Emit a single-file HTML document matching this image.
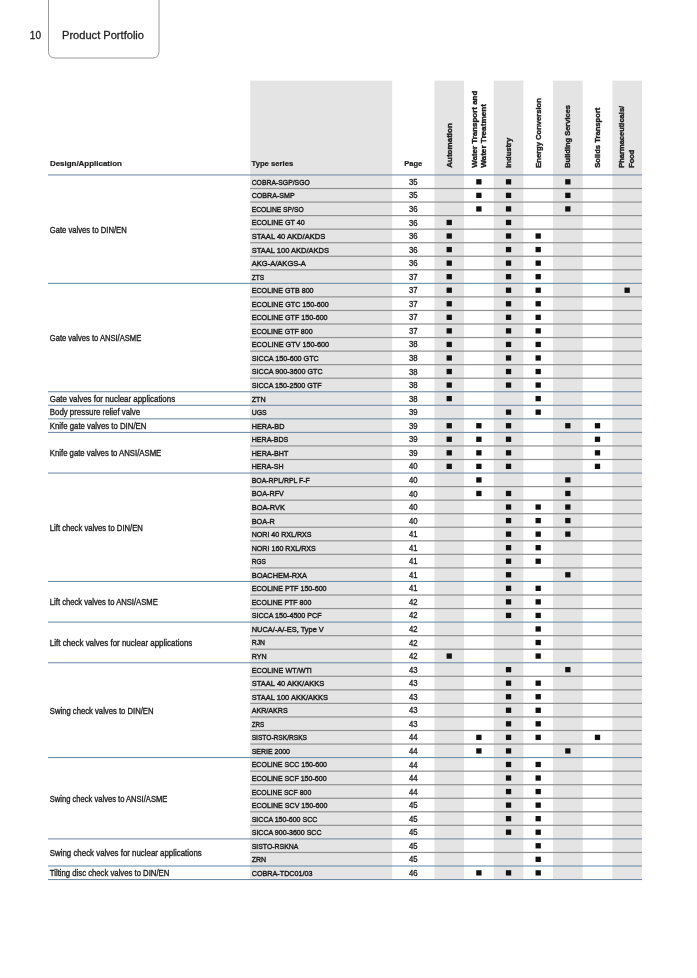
<!DOCTYPE html>
<html lang="en"><head><meta charset="utf-8"><title>Product Portfolio</title>
<style>html,body{margin:0;padding:0;background:#fff}body{width:697px;height:978px;overflow:hidden;position:relative;font-family:"Liberation Sans",sans-serif}svg{position:absolute;left:0;top:0;display:block}text{font-family:"Liberation Sans",sans-serif;fill:#1c1c1c;stroke:#1c1c1c;stroke-width:.32px}.b{font-weight:bold;stroke-width:.2px}.r{stroke-width:.38px}.t{stroke-width:.42px}</style></head><body>
<svg width="697" height="978" viewBox="0 0 697 978">
<path d="M48.5 -2V51.5Q48.5 58 55 58H152.5Q159 58 159 51.5V-2" fill="none" stroke="#9a9a9a" stroke-width="1"/>
<text x="29.8" y="39.3" font-size="11" textLength="11.2" lengthAdjust="spacingAndGlyphs" style="stroke-width:.28px">10</text>
<text x="62" y="39.3" font-size="11" style="stroke-width:.28px" textLength="82" lengthAdjust="spacingAndGlyphs">Product Portfolio</text>
<rect x="250.2" y="80.6" width="142.00" height="798.95" fill="#e4e4e4"/>
<rect x="434.40" y="80.6" width="29.65" height="798.95" fill="#e4e4e4"/>
<rect x="493.71" y="80.6" width="29.66" height="798.95" fill="#e4e4e4"/>
<rect x="553.02" y="80.6" width="29.65" height="798.95" fill="#e4e4e4"/>
<rect x="612.33" y="80.6" width="29.66" height="798.95" fill="#e4e4e4"/>
<text class="b" x="49.9" y="166.3" font-size="8.1" textLength="72" lengthAdjust="spacingAndGlyphs">Design/Application</text>
<text class="b" x="251.5" y="166.3" font-size="8.1" textLength="41.8" lengthAdjust="spacingAndGlyphs">Type series</text>
<text class="b" x="413.30" y="166.3" font-size="8.1" text-anchor="middle" textLength="18" lengthAdjust="spacingAndGlyphs">Page</text>
<text class="b r" font-size="8.1" textLength="44.75" lengthAdjust="spacingAndGlyphs" transform="translate(451.73 167.8) rotate(-90)">Automation</text>
<text class="b r" font-size="8.1" textLength="77.1" lengthAdjust="spacingAndGlyphs" transform="translate(476.53 167.8) rotate(-90)">Water Transport and</text>
<text class="b r" font-size="8.1" textLength="63.7" lengthAdjust="spacingAndGlyphs" transform="translate(486.43 167.8) rotate(-90)">Water Treatment</text>
<text class="b r" font-size="8.1" textLength="30.1" lengthAdjust="spacingAndGlyphs" transform="translate(511.04 167.8) rotate(-90)">Industry</text>
<text class="b r" font-size="8.1" textLength="69.7" lengthAdjust="spacingAndGlyphs" transform="translate(540.69 167.8) rotate(-90)">Energy Conversion</text>
<text class="b r" font-size="8.1" textLength="62.8" lengthAdjust="spacingAndGlyphs" transform="translate(570.35 167.8) rotate(-90)">Building Services</text>
<text class="b r" font-size="8.1" textLength="60.2" lengthAdjust="spacingAndGlyphs" transform="translate(599.60 167.8) rotate(-90)">Solids Transport</text>
<text class="b r" font-size="8.1" textLength="62.0" lengthAdjust="spacingAndGlyphs" transform="translate(624.21 167.8) rotate(-90)">Pharmaceuticals/</text>
<text class="b r" font-size="8.1" textLength="18.1" lengthAdjust="spacingAndGlyphs" transform="translate(634.11 167.8) rotate(-90)">Food</text>
<rect x="250.20" y="187.90" width="391.79" height="1.2" fill="#919191"/>
<rect x="250.20" y="201.45" width="391.79" height="1.2" fill="#919191"/>
<rect x="250.20" y="215.00" width="391.79" height="1.2" fill="#919191"/>
<rect x="250.20" y="228.55" width="391.79" height="1.2" fill="#919191"/>
<rect x="250.20" y="242.10" width="391.79" height="1.2" fill="#919191"/>
<rect x="250.20" y="255.65" width="391.79" height="1.2" fill="#919191"/>
<rect x="250.20" y="269.20" width="391.79" height="1.2" fill="#919191"/>
<rect x="250.20" y="296.30" width="391.79" height="1.2" fill="#919191"/>
<rect x="250.20" y="309.85" width="391.79" height="1.2" fill="#919191"/>
<rect x="250.20" y="323.40" width="391.79" height="1.2" fill="#919191"/>
<rect x="250.20" y="336.95" width="391.79" height="1.2" fill="#919191"/>
<rect x="250.20" y="350.50" width="391.79" height="1.2" fill="#919191"/>
<rect x="250.20" y="364.05" width="391.79" height="1.2" fill="#919191"/>
<rect x="250.20" y="377.60" width="391.79" height="1.2" fill="#919191"/>
<rect x="250.20" y="445.35" width="391.79" height="1.2" fill="#919191"/>
<rect x="250.20" y="458.90" width="391.79" height="1.2" fill="#919191"/>
<rect x="250.20" y="486.00" width="391.79" height="1.2" fill="#919191"/>
<rect x="250.20" y="499.55" width="391.79" height="1.2" fill="#919191"/>
<rect x="250.20" y="513.10" width="391.79" height="1.2" fill="#919191"/>
<rect x="250.20" y="526.65" width="391.79" height="1.2" fill="#919191"/>
<rect x="250.20" y="540.20" width="391.79" height="1.2" fill="#919191"/>
<rect x="250.20" y="553.75" width="391.79" height="1.2" fill="#919191"/>
<rect x="250.20" y="567.30" width="391.79" height="1.2" fill="#919191"/>
<rect x="250.20" y="594.40" width="391.79" height="1.2" fill="#919191"/>
<rect x="250.20" y="607.95" width="391.79" height="1.2" fill="#919191"/>
<rect x="250.20" y="635.05" width="391.79" height="1.2" fill="#919191"/>
<rect x="250.20" y="648.60" width="391.79" height="1.2" fill="#919191"/>
<rect x="250.20" y="675.70" width="391.79" height="1.2" fill="#919191"/>
<rect x="250.20" y="689.25" width="391.79" height="1.2" fill="#919191"/>
<rect x="250.20" y="702.80" width="391.79" height="1.2" fill="#919191"/>
<rect x="250.20" y="716.35" width="391.79" height="1.2" fill="#919191"/>
<rect x="250.20" y="729.90" width="391.79" height="1.2" fill="#919191"/>
<rect x="250.20" y="743.45" width="391.79" height="1.2" fill="#919191"/>
<rect x="250.20" y="770.55" width="391.79" height="1.2" fill="#919191"/>
<rect x="250.20" y="784.10" width="391.79" height="1.2" fill="#919191"/>
<rect x="250.20" y="797.65" width="391.79" height="1.2" fill="#919191"/>
<rect x="250.20" y="811.20" width="391.79" height="1.2" fill="#919191"/>
<rect x="250.20" y="824.75" width="391.79" height="1.2" fill="#919191"/>
<rect x="250.20" y="851.85" width="391.79" height="1.2" fill="#919191"/>
<rect x="48.00" y="174.42" width="593.99" height="1.05" fill="#6d8ba6"/>
<rect x="48.00" y="621.58" width="593.99" height="1.05" fill="#6d8ba6"/>
<rect x="48.00" y="662.23" width="593.99" height="1.05" fill="#6d8ba6"/>
<rect x="48.00" y="282.83" width="593.99" height="1.05" fill="#6d8ba6"/>
<rect x="48.00" y="757.07" width="593.99" height="1.05" fill="#6d8ba6"/>
<rect x="48.00" y="391.23" width="593.99" height="1.05" fill="#6d8ba6"/>
<rect x="48.00" y="404.78" width="593.99" height="1.05" fill="#6d8ba6"/>
<rect x="48.00" y="418.33" width="593.99" height="1.05" fill="#6d8ba6"/>
<rect x="48.00" y="431.88" width="593.99" height="1.05" fill="#6d8ba6"/>
<rect x="48.00" y="838.38" width="593.99" height="1.05" fill="#6d8ba6"/>
<rect x="48.00" y="865.48" width="593.99" height="1.05" fill="#6d8ba6"/>
<rect x="48.00" y="472.53" width="593.99" height="1.05" fill="#6d8ba6"/>
<rect x="48.00" y="879.02" width="593.99" height="1.05" fill="#6d8ba6"/>
<rect x="48.00" y="580.93" width="593.99" height="1.05" fill="#6d8ba6"/>
<text class="t" font-size="8.1" x="251.7" y="184.77" textLength="58.1" lengthAdjust="spacingAndGlyphs">COBRA-SGP/SGO</text>
<text font-size="8.4" text-anchor="middle" transform="translate(413.30 184.87) scale(0.92 1)">35</text>
<rect x="476.23" y="179.17" width="5.3" height="5.3" fill="#111"/>
<rect x="505.89" y="179.17" width="5.3" height="5.3" fill="#111"/>
<rect x="565.20" y="179.17" width="5.3" height="5.3" fill="#111"/>
<text class="t" font-size="8.1" x="251.7" y="198.32" textLength="43.0" lengthAdjust="spacingAndGlyphs">COBRA-SMP</text>
<text font-size="8.4" text-anchor="middle" transform="translate(413.30 198.42) scale(0.92 1)">35</text>
<rect x="476.23" y="192.72" width="5.3" height="5.3" fill="#111"/>
<rect x="505.89" y="192.72" width="5.3" height="5.3" fill="#111"/>
<rect x="565.20" y="192.72" width="5.3" height="5.3" fill="#111"/>
<text class="t" font-size="8.1" x="251.7" y="211.87" textLength="52.0" lengthAdjust="spacingAndGlyphs">ECOLINE SP/SO</text>
<text font-size="8.4" text-anchor="middle" transform="translate(413.30 211.97) scale(0.92 1)">36</text>
<rect x="476.23" y="206.27" width="5.3" height="5.3" fill="#111"/>
<rect x="505.89" y="206.27" width="5.3" height="5.3" fill="#111"/>
<rect x="565.20" y="206.27" width="5.3" height="5.3" fill="#111"/>
<text class="t" font-size="8.1" x="251.7" y="225.42" textLength="53.1" lengthAdjust="spacingAndGlyphs">ECOLINE GT 40</text>
<text font-size="8.4" text-anchor="middle" transform="translate(413.30 225.52) scale(0.92 1)">36</text>
<rect x="446.58" y="219.82" width="5.3" height="5.3" fill="#111"/>
<rect x="505.89" y="219.82" width="5.3" height="5.3" fill="#111"/>
<text class="t" font-size="8.1" x="251.7" y="238.97" textLength="73.6" lengthAdjust="spacingAndGlyphs">STAAL 40 AKD/AKDS</text>
<text font-size="8.4" text-anchor="middle" transform="translate(413.30 239.07) scale(0.92 1)">36</text>
<rect x="446.58" y="233.37" width="5.3" height="5.3" fill="#111"/>
<rect x="505.89" y="233.37" width="5.3" height="5.3" fill="#111"/>
<rect x="535.54" y="233.37" width="5.3" height="5.3" fill="#111"/>
<text class="t" font-size="8.1" x="251.7" y="252.52" textLength="77.4" lengthAdjust="spacingAndGlyphs">STAAL 100 AKD/AKDS</text>
<text font-size="8.4" text-anchor="middle" transform="translate(413.30 252.62) scale(0.92 1)">36</text>
<rect x="446.58" y="246.92" width="5.3" height="5.3" fill="#111"/>
<rect x="505.89" y="246.92" width="5.3" height="5.3" fill="#111"/>
<rect x="535.54" y="246.92" width="5.3" height="5.3" fill="#111"/>
<text class="t" font-size="8.1" x="251.7" y="266.07" textLength="54.2" lengthAdjust="spacingAndGlyphs">AKG-A/AKGS-A</text>
<text font-size="8.4" text-anchor="middle" transform="translate(413.30 266.17) scale(0.92 1)">36</text>
<rect x="446.58" y="260.48" width="5.3" height="5.3" fill="#111"/>
<rect x="505.89" y="260.48" width="5.3" height="5.3" fill="#111"/>
<rect x="535.54" y="260.48" width="5.3" height="5.3" fill="#111"/>
<text class="t" font-size="8.1" x="251.7" y="279.62" textLength="12.5" lengthAdjust="spacingAndGlyphs">ZTS</text>
<text font-size="8.4" text-anchor="middle" transform="translate(413.30 279.72) scale(0.92 1)">37</text>
<rect x="446.58" y="274.03" width="5.3" height="5.3" fill="#111"/>
<rect x="505.89" y="274.03" width="5.3" height="5.3" fill="#111"/>
<rect x="535.54" y="274.03" width="5.3" height="5.3" fill="#111"/>
<text class="t" font-size="8.1" x="251.7" y="293.17" textLength="61.9" lengthAdjust="spacingAndGlyphs">ECOLINE GTB 800</text>
<text font-size="8.4" text-anchor="middle" transform="translate(413.30 293.27) scale(0.92 1)">37</text>
<rect x="446.58" y="287.58" width="5.3" height="5.3" fill="#111"/>
<rect x="505.89" y="287.58" width="5.3" height="5.3" fill="#111"/>
<rect x="535.54" y="287.58" width="5.3" height="5.3" fill="#111"/>
<rect x="624.51" y="287.58" width="5.3" height="5.3" fill="#111"/>
<text class="t" font-size="8.1" x="251.7" y="306.72" textLength="77.0" lengthAdjust="spacingAndGlyphs">ECOLINE GTC 150-600</text>
<text font-size="8.4" text-anchor="middle" transform="translate(413.30 306.82) scale(0.92 1)">37</text>
<rect x="446.58" y="301.12" width="5.3" height="5.3" fill="#111"/>
<rect x="505.89" y="301.12" width="5.3" height="5.3" fill="#111"/>
<rect x="535.54" y="301.12" width="5.3" height="5.3" fill="#111"/>
<text class="t" font-size="8.1" x="251.7" y="320.27" textLength="75.9" lengthAdjust="spacingAndGlyphs">ECOLINE GTF 150-600</text>
<text font-size="8.4" text-anchor="middle" transform="translate(413.30 320.37) scale(0.92 1)">37</text>
<rect x="446.58" y="314.68" width="5.3" height="5.3" fill="#111"/>
<rect x="505.89" y="314.68" width="5.3" height="5.3" fill="#111"/>
<rect x="535.54" y="314.68" width="5.3" height="5.3" fill="#111"/>
<text class="t" font-size="8.1" x="251.7" y="333.82" textLength="60.9" lengthAdjust="spacingAndGlyphs">ECOLINE GTF 800</text>
<text font-size="8.4" text-anchor="middle" transform="translate(413.30 333.92) scale(0.92 1)">37</text>
<rect x="446.58" y="328.23" width="5.3" height="5.3" fill="#111"/>
<rect x="505.89" y="328.23" width="5.3" height="5.3" fill="#111"/>
<rect x="535.54" y="328.23" width="5.3" height="5.3" fill="#111"/>
<text class="t" font-size="8.1" x="251.7" y="347.37" textLength="77.4" lengthAdjust="spacingAndGlyphs">ECOLINE GTV 150-600</text>
<text font-size="8.4" text-anchor="middle" transform="translate(413.30 347.47) scale(0.92 1)">38</text>
<rect x="446.58" y="341.78" width="5.3" height="5.3" fill="#111"/>
<rect x="505.89" y="341.78" width="5.3" height="5.3" fill="#111"/>
<rect x="535.54" y="341.78" width="5.3" height="5.3" fill="#111"/>
<text class="t" font-size="8.1" x="251.7" y="360.92" textLength="67.1" lengthAdjust="spacingAndGlyphs">SICCA 150-600 GTC</text>
<text font-size="8.4" text-anchor="middle" transform="translate(413.30 361.02) scale(0.92 1)">38</text>
<rect x="446.58" y="355.33" width="5.3" height="5.3" fill="#111"/>
<rect x="505.89" y="355.33" width="5.3" height="5.3" fill="#111"/>
<rect x="535.54" y="355.33" width="5.3" height="5.3" fill="#111"/>
<text class="t" font-size="8.1" x="251.7" y="374.47" textLength="71.0" lengthAdjust="spacingAndGlyphs">SICCA 900-3600 GTC</text>
<text font-size="8.4" text-anchor="middle" transform="translate(413.30 374.57) scale(0.92 1)">38</text>
<rect x="446.58" y="368.88" width="5.3" height="5.3" fill="#111"/>
<rect x="505.89" y="368.88" width="5.3" height="5.3" fill="#111"/>
<rect x="535.54" y="368.88" width="5.3" height="5.3" fill="#111"/>
<text class="t" font-size="8.1" x="251.7" y="388.02" textLength="69.9" lengthAdjust="spacingAndGlyphs">SICCA 150-2500 GTF</text>
<text font-size="8.4" text-anchor="middle" transform="translate(413.30 388.12) scale(0.92 1)">38</text>
<rect x="446.58" y="382.43" width="5.3" height="5.3" fill="#111"/>
<rect x="505.89" y="382.43" width="5.3" height="5.3" fill="#111"/>
<rect x="535.54" y="382.43" width="5.3" height="5.3" fill="#111"/>
<text class="t" font-size="8.1" x="251.7" y="401.57" textLength="14.0" lengthAdjust="spacingAndGlyphs">ZTN</text>
<text font-size="8.4" text-anchor="middle" transform="translate(413.30 401.67) scale(0.92 1)">38</text>
<rect x="446.58" y="395.98" width="5.3" height="5.3" fill="#111"/>
<rect x="535.54" y="395.98" width="5.3" height="5.3" fill="#111"/>
<text class="t" font-size="8.1" x="251.7" y="415.12" textLength="15.0" lengthAdjust="spacingAndGlyphs">UGS</text>
<text font-size="8.4" text-anchor="middle" transform="translate(413.30 415.22) scale(0.92 1)">39</text>
<rect x="505.89" y="409.53" width="5.3" height="5.3" fill="#111"/>
<rect x="535.54" y="409.53" width="5.3" height="5.3" fill="#111"/>
<text class="t" font-size="8.1" x="251.7" y="428.67" textLength="32.7" lengthAdjust="spacingAndGlyphs">HERA-BD</text>
<text font-size="8.4" text-anchor="middle" transform="translate(413.30 428.77) scale(0.92 1)">39</text>
<rect x="446.58" y="423.08" width="5.3" height="5.3" fill="#111"/>
<rect x="476.23" y="423.08" width="5.3" height="5.3" fill="#111"/>
<rect x="505.89" y="423.08" width="5.3" height="5.3" fill="#111"/>
<rect x="565.20" y="423.08" width="5.3" height="5.3" fill="#111"/>
<rect x="594.85" y="423.08" width="5.3" height="5.3" fill="#111"/>
<text class="t" font-size="8.1" x="251.7" y="442.22" textLength="36.6" lengthAdjust="spacingAndGlyphs">HERA-BDS</text>
<text font-size="8.4" text-anchor="middle" transform="translate(413.30 442.32) scale(0.92 1)">39</text>
<rect x="446.58" y="436.63" width="5.3" height="5.3" fill="#111"/>
<rect x="476.23" y="436.63" width="5.3" height="5.3" fill="#111"/>
<rect x="505.89" y="436.63" width="5.3" height="5.3" fill="#111"/>
<rect x="594.85" y="436.63" width="5.3" height="5.3" fill="#111"/>
<text class="t" font-size="8.1" x="251.7" y="455.77" textLength="36.6" lengthAdjust="spacingAndGlyphs">HERA-BHT</text>
<text font-size="8.4" text-anchor="middle" transform="translate(413.30 455.87) scale(0.92 1)">39</text>
<rect x="446.58" y="450.18" width="5.3" height="5.3" fill="#111"/>
<rect x="476.23" y="450.18" width="5.3" height="5.3" fill="#111"/>
<rect x="505.89" y="450.18" width="5.3" height="5.3" fill="#111"/>
<rect x="594.85" y="450.18" width="5.3" height="5.3" fill="#111"/>
<text class="t" font-size="8.1" x="251.7" y="469.32" textLength="31.8" lengthAdjust="spacingAndGlyphs">HERA-SH</text>
<text font-size="8.4" text-anchor="middle" transform="translate(413.30 469.42) scale(0.92 1)">40</text>
<rect x="446.58" y="463.73" width="5.3" height="5.3" fill="#111"/>
<rect x="476.23" y="463.73" width="5.3" height="5.3" fill="#111"/>
<rect x="505.89" y="463.73" width="5.3" height="5.3" fill="#111"/>
<rect x="594.85" y="463.73" width="5.3" height="5.3" fill="#111"/>
<text class="t" font-size="8.1" x="251.7" y="482.87" textLength="58.1" lengthAdjust="spacingAndGlyphs">BOA-RPL/RPL F-F</text>
<text font-size="8.4" text-anchor="middle" transform="translate(413.30 482.97) scale(0.92 1)">40</text>
<rect x="476.23" y="477.28" width="5.3" height="5.3" fill="#111"/>
<rect x="565.20" y="477.28" width="5.3" height="5.3" fill="#111"/>
<text class="t" font-size="8.1" x="251.7" y="496.42" textLength="32.2" lengthAdjust="spacingAndGlyphs">BOA-RFV</text>
<text font-size="8.4" text-anchor="middle" transform="translate(413.30 496.52) scale(0.92 1)">40</text>
<rect x="476.23" y="490.83" width="5.3" height="5.3" fill="#111"/>
<rect x="505.89" y="490.83" width="5.3" height="5.3" fill="#111"/>
<rect x="565.20" y="490.83" width="5.3" height="5.3" fill="#111"/>
<text class="t" font-size="8.1" x="251.7" y="509.97" textLength="33.3" lengthAdjust="spacingAndGlyphs">BOA-RVK</text>
<text font-size="8.4" text-anchor="middle" transform="translate(413.30 510.07) scale(0.92 1)">40</text>
<rect x="505.89" y="504.38" width="5.3" height="5.3" fill="#111"/>
<rect x="535.54" y="504.38" width="5.3" height="5.3" fill="#111"/>
<rect x="565.20" y="504.38" width="5.3" height="5.3" fill="#111"/>
<text class="t" font-size="8.1" x="251.7" y="523.52" textLength="23.2" lengthAdjust="spacingAndGlyphs">BOA-R</text>
<text font-size="8.4" text-anchor="middle" transform="translate(413.30 523.62) scale(0.92 1)">40</text>
<rect x="505.89" y="517.93" width="5.3" height="5.3" fill="#111"/>
<rect x="535.54" y="517.93" width="5.3" height="5.3" fill="#111"/>
<rect x="565.20" y="517.93" width="5.3" height="5.3" fill="#111"/>
<text class="t" font-size="8.1" x="251.7" y="537.07" textLength="59.8" lengthAdjust="spacingAndGlyphs">NORI 40 RXL/RXS</text>
<text font-size="8.4" text-anchor="middle" transform="translate(413.30 537.17) scale(0.92 1)">41</text>
<rect x="505.89" y="531.48" width="5.3" height="5.3" fill="#111"/>
<rect x="535.54" y="531.48" width="5.3" height="5.3" fill="#111"/>
<rect x="565.20" y="531.48" width="5.3" height="5.3" fill="#111"/>
<text class="t" font-size="8.1" x="251.7" y="550.62" textLength="64.1" lengthAdjust="spacingAndGlyphs">NORI 160 RXL/RXS</text>
<text font-size="8.4" text-anchor="middle" transform="translate(413.30 550.72) scale(0.92 1)">41</text>
<rect x="505.89" y="545.03" width="5.3" height="5.3" fill="#111"/>
<rect x="535.54" y="545.03" width="5.3" height="5.3" fill="#111"/>
<text class="t" font-size="8.1" x="251.7" y="564.17" textLength="14.2" lengthAdjust="spacingAndGlyphs">RGS</text>
<text font-size="8.4" text-anchor="middle" transform="translate(413.30 564.27) scale(0.92 1)">41</text>
<rect x="505.89" y="558.58" width="5.3" height="5.3" fill="#111"/>
<rect x="535.54" y="558.58" width="5.3" height="5.3" fill="#111"/>
<text class="t" font-size="8.1" x="251.7" y="577.72" textLength="55.3" lengthAdjust="spacingAndGlyphs">BOACHEM-RXA</text>
<text font-size="8.4" text-anchor="middle" transform="translate(413.30 577.82) scale(0.92 1)">41</text>
<rect x="505.89" y="572.12" width="5.3" height="5.3" fill="#111"/>
<rect x="565.20" y="572.12" width="5.3" height="5.3" fill="#111"/>
<text class="t" font-size="8.1" x="251.7" y="591.27" textLength="74.9" lengthAdjust="spacingAndGlyphs">ECOLINE PTF 150-600</text>
<text font-size="8.4" text-anchor="middle" transform="translate(413.30 591.37) scale(0.92 1)">41</text>
<rect x="505.89" y="585.68" width="5.3" height="5.3" fill="#111"/>
<rect x="535.54" y="585.68" width="5.3" height="5.3" fill="#111"/>
<text class="t" font-size="8.1" x="251.7" y="604.82" textLength="59.6" lengthAdjust="spacingAndGlyphs">ECOLINE PTF 800</text>
<text font-size="8.4" text-anchor="middle" transform="translate(413.30 604.92) scale(0.92 1)">42</text>
<rect x="505.89" y="599.23" width="5.3" height="5.3" fill="#111"/>
<rect x="535.54" y="599.23" width="5.3" height="5.3" fill="#111"/>
<text class="t" font-size="8.1" x="251.7" y="618.37" textLength="69.9" lengthAdjust="spacingAndGlyphs">SICCA 150-4500 PCF</text>
<text font-size="8.4" text-anchor="middle" transform="translate(413.30 618.47) scale(0.92 1)">42</text>
<rect x="505.89" y="612.78" width="5.3" height="5.3" fill="#111"/>
<rect x="535.54" y="612.78" width="5.3" height="5.3" fill="#111"/>
<text class="t" font-size="8.1" x="251.7" y="631.92" textLength="72.1" lengthAdjust="spacingAndGlyphs">NUCA/-A/-ES, Type V</text>
<text font-size="8.4" text-anchor="middle" transform="translate(413.30 632.02) scale(0.92 1)">42</text>
<rect x="535.54" y="626.33" width="5.3" height="5.3" fill="#111"/>
<text class="t" font-size="8.1" x="251.7" y="645.47" textLength="13.3" lengthAdjust="spacingAndGlyphs">RJN</text>
<text font-size="8.4" text-anchor="middle" transform="translate(413.30 645.57) scale(0.92 1)">42</text>
<rect x="535.54" y="639.88" width="5.3" height="5.3" fill="#111"/>
<text class="t" font-size="8.1" x="251.7" y="659.02" textLength="15.0" lengthAdjust="spacingAndGlyphs">RYN</text>
<text font-size="8.4" text-anchor="middle" transform="translate(413.30 659.12) scale(0.92 1)">42</text>
<rect x="446.58" y="653.43" width="5.3" height="5.3" fill="#111"/>
<rect x="535.54" y="653.43" width="5.3" height="5.3" fill="#111"/>
<text class="t" font-size="8.1" x="251.7" y="672.57" textLength="60.2" lengthAdjust="spacingAndGlyphs">ECOLINE WT/WTI</text>
<text font-size="8.4" text-anchor="middle" transform="translate(413.30 672.67) scale(0.92 1)">43</text>
<rect x="505.89" y="666.98" width="5.3" height="5.3" fill="#111"/>
<rect x="565.20" y="666.98" width="5.3" height="5.3" fill="#111"/>
<text class="t" font-size="8.1" x="251.7" y="686.12" textLength="72.7" lengthAdjust="spacingAndGlyphs">STAAL 40 AKK/AKKS</text>
<text font-size="8.4" text-anchor="middle" transform="translate(413.30 686.22) scale(0.92 1)">43</text>
<rect x="505.89" y="680.53" width="5.3" height="5.3" fill="#111"/>
<rect x="535.54" y="680.53" width="5.3" height="5.3" fill="#111"/>
<text class="t" font-size="8.1" x="251.7" y="699.67" textLength="76.4" lengthAdjust="spacingAndGlyphs">STAAL 100 AKK/AKKS</text>
<text font-size="8.4" text-anchor="middle" transform="translate(413.30 699.77) scale(0.92 1)">43</text>
<rect x="505.89" y="694.08" width="5.3" height="5.3" fill="#111"/>
<rect x="535.54" y="694.08" width="5.3" height="5.3" fill="#111"/>
<text class="t" font-size="8.1" x="251.7" y="713.22" textLength="36.1" lengthAdjust="spacingAndGlyphs">AKR/AKRS</text>
<text font-size="8.4" text-anchor="middle" transform="translate(413.30 713.32) scale(0.92 1)">43</text>
<rect x="505.89" y="707.62" width="5.3" height="5.3" fill="#111"/>
<rect x="535.54" y="707.62" width="5.3" height="5.3" fill="#111"/>
<text class="t" font-size="8.1" x="251.7" y="726.77" textLength="12.5" lengthAdjust="spacingAndGlyphs">ZRS</text>
<text font-size="8.4" text-anchor="middle" transform="translate(413.30 726.87) scale(0.92 1)">43</text>
<rect x="505.89" y="721.17" width="5.3" height="5.3" fill="#111"/>
<rect x="535.54" y="721.17" width="5.3" height="5.3" fill="#111"/>
<text class="t" font-size="8.1" x="251.7" y="740.32" textLength="55.3" lengthAdjust="spacingAndGlyphs">SISTO-RSK/RSKS</text>
<text font-size="8.4" text-anchor="middle" transform="translate(413.30 740.42) scale(0.92 1)">44</text>
<rect x="476.23" y="734.73" width="5.3" height="5.3" fill="#111"/>
<rect x="505.89" y="734.73" width="5.3" height="5.3" fill="#111"/>
<rect x="535.54" y="734.73" width="5.3" height="5.3" fill="#111"/>
<rect x="594.85" y="734.73" width="5.3" height="5.3" fill="#111"/>
<text class="t" font-size="8.1" x="251.7" y="753.87" textLength="38.3" lengthAdjust="spacingAndGlyphs">SERIE 2000</text>
<text font-size="8.4" text-anchor="middle" transform="translate(413.30 753.97) scale(0.92 1)">44</text>
<rect x="476.23" y="748.28" width="5.3" height="5.3" fill="#111"/>
<rect x="505.89" y="748.28" width="5.3" height="5.3" fill="#111"/>
<rect x="565.20" y="748.28" width="5.3" height="5.3" fill="#111"/>
<text class="t" font-size="8.1" x="251.7" y="767.42" textLength="75.3" lengthAdjust="spacingAndGlyphs">ECOLINE SCC 150-600</text>
<text font-size="8.4" text-anchor="middle" transform="translate(413.30 767.52) scale(0.92 1)">44</text>
<rect x="505.89" y="761.83" width="5.3" height="5.3" fill="#111"/>
<rect x="535.54" y="761.83" width="5.3" height="5.3" fill="#111"/>
<text class="t" font-size="8.1" x="251.7" y="780.97" textLength="74.9" lengthAdjust="spacingAndGlyphs">ECOLINE SCF 150-600</text>
<text font-size="8.4" text-anchor="middle" transform="translate(413.30 781.07) scale(0.92 1)">44</text>
<rect x="505.89" y="775.38" width="5.3" height="5.3" fill="#111"/>
<rect x="535.54" y="775.38" width="5.3" height="5.3" fill="#111"/>
<text class="t" font-size="8.1" x="251.7" y="794.52" textLength="59.6" lengthAdjust="spacingAndGlyphs">ECOLINE SCF 800</text>
<text font-size="8.4" text-anchor="middle" transform="translate(413.30 794.62) scale(0.92 1)">44</text>
<rect x="505.89" y="788.92" width="5.3" height="5.3" fill="#111"/>
<rect x="535.54" y="788.92" width="5.3" height="5.3" fill="#111"/>
<text class="t" font-size="8.1" x="251.7" y="808.07" textLength="75.7" lengthAdjust="spacingAndGlyphs">ECOLINE SCV 150-600</text>
<text font-size="8.4" text-anchor="middle" transform="translate(413.30 808.17) scale(0.92 1)">45</text>
<rect x="505.89" y="802.48" width="5.3" height="5.3" fill="#111"/>
<rect x="535.54" y="802.48" width="5.3" height="5.3" fill="#111"/>
<text class="t" font-size="8.1" x="251.7" y="821.62" textLength="65.6" lengthAdjust="spacingAndGlyphs">SICCA 150-600 SCC</text>
<text font-size="8.4" text-anchor="middle" transform="translate(413.30 821.72) scale(0.92 1)">45</text>
<rect x="505.89" y="816.03" width="5.3" height="5.3" fill="#111"/>
<rect x="535.54" y="816.03" width="5.3" height="5.3" fill="#111"/>
<text class="t" font-size="8.1" x="251.7" y="835.17" textLength="69.9" lengthAdjust="spacingAndGlyphs">SICCA 900-3600 SCC</text>
<text font-size="8.4" text-anchor="middle" transform="translate(413.30 835.27) scale(0.92 1)">45</text>
<rect x="505.89" y="829.58" width="5.3" height="5.3" fill="#111"/>
<rect x="535.54" y="829.58" width="5.3" height="5.3" fill="#111"/>
<text class="t" font-size="8.1" x="251.7" y="848.72" textLength="46.7" lengthAdjust="spacingAndGlyphs">SISTO-RSKNA</text>
<text font-size="8.4" text-anchor="middle" transform="translate(413.30 848.82) scale(0.92 1)">45</text>
<rect x="535.54" y="843.12" width="5.3" height="5.3" fill="#111"/>
<text class="t" font-size="8.1" x="251.7" y="862.27" textLength="14.4" lengthAdjust="spacingAndGlyphs">ZRN</text>
<text font-size="8.4" text-anchor="middle" transform="translate(413.30 862.37) scale(0.92 1)">45</text>
<rect x="535.54" y="856.68" width="5.3" height="5.3" fill="#111"/>
<text class="t" font-size="8.1" x="251.7" y="875.82" textLength="60.9" lengthAdjust="spacingAndGlyphs">COBRA-TDC01/03</text>
<text font-size="8.4" text-anchor="middle" transform="translate(413.30 875.92) scale(0.92 1)">46</text>
<rect x="476.23" y="870.23" width="5.3" height="5.3" fill="#111"/>
<rect x="505.89" y="870.23" width="5.3" height="5.3" fill="#111"/>
<rect x="535.54" y="870.23" width="5.3" height="5.3" fill="#111"/>
<text font-size="8.299999999999999" x="49.8" y="232.55" textLength="76.9" lengthAdjust="spacingAndGlyphs">Gate valves to DIN/EN</text>
<text font-size="8.299999999999999" x="49.8" y="340.95" textLength="91.4" lengthAdjust="spacingAndGlyphs">Gate valves to ANSI/ASME</text>
<text font-size="8.299999999999999" x="49.8" y="401.92" textLength="125.3" lengthAdjust="spacingAndGlyphs">Gate valves for nuclear applications</text>
<text font-size="8.299999999999999" x="49.8" y="415.47" textLength="90.3" lengthAdjust="spacingAndGlyphs">Body pressure relief valve</text>
<text font-size="8.299999999999999" x="49.8" y="429.02" textLength="96.6" lengthAdjust="spacingAndGlyphs">Knife gate valves to DIN/EN</text>
<text font-size="8.299999999999999" x="49.8" y="456.12" textLength="111.5" lengthAdjust="spacingAndGlyphs">Knife gate valves to ANSI/ASME</text>
<text font-size="8.299999999999999" x="49.8" y="530.65" textLength="93.1" lengthAdjust="spacingAndGlyphs">Lift check valves to DIN/EN</text>
<text font-size="8.299999999999999" x="49.8" y="605.17" textLength="108.0" lengthAdjust="spacingAndGlyphs">Lift check valves to ANSI/ASME</text>
<text font-size="8.299999999999999" x="49.8" y="645.82" textLength="142.5" lengthAdjust="spacingAndGlyphs">Lift check valves for nuclear applications</text>
<text font-size="8.299999999999999" x="49.8" y="713.57" textLength="103.7" lengthAdjust="spacingAndGlyphs">Swing check valves to DIN/EN</text>
<text font-size="8.299999999999999" x="49.8" y="801.65" textLength="117.5" lengthAdjust="spacingAndGlyphs">Swing check valves to ANSI/ASME</text>
<text font-size="8.299999999999999" x="49.8" y="855.85" textLength="151.9" lengthAdjust="spacingAndGlyphs">Swing check valves for nuclear applications</text>
<text font-size="8.299999999999999" x="49.8" y="876.17" textLength="119.5" lengthAdjust="spacingAndGlyphs">Tilting disc check valves to DIN/EN</text>
</svg></body></html>
